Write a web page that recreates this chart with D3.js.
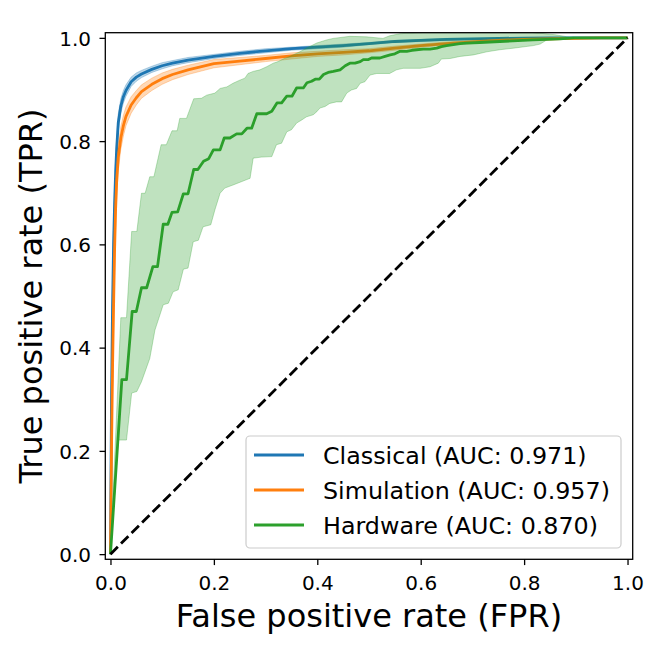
<!DOCTYPE html>
<html><head><meta charset="utf-8">
<script src="https://cdn.jsdelivr.net/npm/d3@7"></script>
<style>body{margin:0;background:#fff} svg{display:block} text{font-family:"DejaVu Sans",sans-serif;fill:#000}</style>
</head><body><svg id="chart" width="664" height="664"></svg>
<script>
// ---- data ----
const fprGrid = [0,0.002,0.004,0.006,0.008,0.010,0.012,0.015,0.02,0.025,0.03,0.04,0.05,0.06,0.08,0.10,0.12,0.15,0.2,0.25,0.3,0.35,0.4,0.45,0.5,0.55,0.6,0.65,0.7,0.75,0.8,0.85,0.9,0.95,1.0];
const classicalTpr = [0,0.30,0.48,0.60,0.68,0.74,0.785,0.835,0.868,0.886,0.898,0.915,0.924,0.930,0.939,0.946,0.951,0.957,0.964,0.970,0.975,0.979,0.982,0.985,0.989,0.993,0.995,0.997,0.998,0.999,0.9995,1.0,1.0,1.0,1.0];
const classicalStd = [0,0.04,0.04,0.035,0.03,0.025,0.02,0.017,0.014,0.012,0.011,0.009,0.008,0.007,0.006,0.006,0.005,0.005,0.004,0.004,0.004,0.003,0.003,0.003,0.002,0.002,0.002,0.002,0.001,0.001,0.001,0,0,0,0];
const simulationTpr = [0,0.20,0.36,0.48,0.59,0.67,0.722,0.768,0.806,0.830,0.848,0.870,0.884,0.896,0.910,0.921,0.929,0.938,0.950,0.955,0.960,0.965,0.969,0.972,0.975,0.980,0.985,0.989,0.992,0.995,0.997,0.998,0.999,1.0,1.0];
const simulationStd = [0,0.05,0.05,0.045,0.04,0.035,0.03,0.026,0.022,0.02,0.018,0.016,0.014,0.013,0.012,0.011,0.010,0.009,0.008,0.007,0.006,0.006,0.005,0.005,0.004,0.004,0.003,0.003,0.003,0.002,0.002,0.002,0.001,0.001,0];
const hardwareMean = [[0,0],[0.022,0.338],[0.031,0.338],[0.042,0.470],[0.050,0.470],[0.060,0.516],[0.070,0.516],[0.082,0.557],[0.091,0.557],[0.102,0.639],[0.111,0.639],[0.119,0.662],[0.130,0.663],[0.141,0.698],[0.150,0.698],[0.161,0.745],[0.169,0.745],[0.180,0.761],[0.190,0.766],[0.199,0.783],[0.212,0.783],[0.220,0.806],[0.231,0.806],[0.244,0.814],[0.254,0.814],[0.264,0.825],[0.273,0.825],[0.283,0.853],[0.302,0.853],[0.312,0.858],[0.322,0.874],[0.331,0.874],[0.341,0.887],[0.351,0.887],[0.360,0.903],[0.373,0.903],[0.380,0.913],[0.389,0.916],[0.396,0.920],[0.404,0.920],[0.412,0.929],[0.421,0.933],[0.431,0.935],[0.444,0.938],[0.454,0.946],[0.463,0.951],[0.473,0.951],[0.483,0.954],[0.489,0.958],[0.499,0.958],[0.505,0.961],[0.521,0.961],[0.531,0.964],[0.541,0.967],[0.550,0.969],[0.560,0.974],[0.573,0.974],[0.583,0.976],[0.592,0.977],[0.605,0.978],[0.618,0.978],[0.631,0.980],[0.640,0.983],[0.650,0.985],[0.663,0.987],[0.676,0.989],[0.689,0.990],[0.714,0.991],[0.753,0.993],[0.817,0.996],[0.869,0.998],[0.895,1.0],[1.0,1.0]];
const hardwareUpper = [[0,0],[0.020,0.458],[0.031,0.458],[0.041,0.625],[0.051,0.625],[0.060,0.699],[0.067,0.699],[0.076,0.731],[0.084,0.731],[0.098,0.793],[0.108,0.793],[0.119,0.820],[0.129,0.820],[0.134,0.844],[0.147,0.844],[0.161,0.882],[0.176,0.883],[0.186,0.889],[0.202,0.893],[0.212,0.902],[0.225,0.905],[0.237,0.912],[0.250,0.918],[0.260,0.922],[0.266,0.931],[0.276,0.935],[0.289,0.938],[0.302,0.944],[0.315,0.951],[0.324,0.954],[0.334,0.959],[0.347,0.964],[0.366,0.973],[0.379,0.980],[0.399,0.990],[0.418,0.996],[0.431,0.999],[0.463,1.003],[0.495,1.002],[0.527,0.999],[0.540,1.004],[0.560,1.008],[0.592,1.010],[0.657,1.012],[0.800,1.012],[0.860,1.006],[0.895,1.0],[1.0,1.0]];
const hardwareLower = [[0,0],[0.015,0.221],[0.031,0.221],[0.041,0.312],[0.051,0.315],[0.060,0.334],[0.076,0.379],[0.086,0.434],[0.102,0.483],[0.112,0.486],[0.121,0.508],[0.131,0.512],[0.141,0.552],[0.150,0.554],[0.160,0.605],[0.170,0.608],[0.179,0.634],[0.194,0.638],[0.202,0.667],[0.212,0.699],[0.221,0.709],[0.237,0.715],[0.270,0.728],[0.276,0.767],[0.292,0.769],[0.312,0.770],[0.321,0.793],[0.331,0.796],[0.341,0.818],[0.350,0.822],[0.360,0.835],[0.370,0.841],[0.379,0.847],[0.392,0.851],[0.399,0.857],[0.405,0.864],[0.415,0.867],[0.424,0.873],[0.437,0.876],[0.447,0.876],[0.457,0.893],[0.466,0.899],[0.476,0.902],[0.483,0.912],[0.492,0.915],[0.502,0.928],[0.515,0.931],[0.540,0.931],[0.553,0.938],[0.566,0.941],[0.599,0.941],[0.618,0.944],[0.634,0.951],[0.640,0.959],[0.657,0.960],[0.676,0.964],[0.702,0.967],[0.728,0.973],[0.753,0.977],[0.779,0.980],[0.818,0.985],[0.831,0.988],[0.844,0.996],[0.882,0.998],[0.895,0.999],[1.0,1.0]];
const seriesNames = ["Classical (AUC: 0.971)","Simulation (AUC: 0.957)","Hardware (AUC: 0.870)"];
const seriesColors = ["#1f77b4","#ff7f0e","#2ca02c"];
const tickValues = [0,0.2,0.4,0.6,0.8,1.0];
const xLabel = "False positive rate (FPR)";
const yLabel = "True positive rate (TPR)";

// ---- layout ----
const L = 105.3, R = 632.7, T = 32.7, B = 559.3;
const svg = d3.select("#chart");
const x = d3.scaleLinear().domain([-0.01,1.01]).range([L,R]);
const y = d3.scaleLinear().domain([-0.01,1.01]).range([B,T]);

svg.append("defs").append("clipPath").attr("id","clip")
  .append("rect").attr("x",L).attr("y",T).attr("width",R-L).attr("height",B-T);
const plot = svg.append("g").attr("clip-path","url(#clip)");

const lineGrid = d3.line().x((d,i)=>x(fprGrid[i])).y(d=>y(d));
const areaGrid = (tpr,std) => d3.area()
  .x((d,i)=>x(fprGrid[i])).y0((d,i)=>y(tpr[i]-std[i])).y1((d,i)=>y(tpr[i]+std[i]))(tpr);
const linePts = d3.line().x(d=>x(d[0])).y(d=>y(d[1]));

// classical
plot.append("path").attr("d",lineGrid(classicalTpr)).attr("fill","none")
  .attr("stroke",seriesColors[0]).attr("stroke-width",2.8).attr("stroke-linejoin","round");
plot.append("path").attr("d",areaGrid(classicalTpr,classicalStd))
  .attr("fill",seriesColors[0]).attr("fill-opacity",0.3)
  .attr("stroke",seriesColors[0]).attr("stroke-opacity",0.3).attr("stroke-width",1);
// simulation
plot.append("path").attr("d",lineGrid(simulationTpr)).attr("fill","none")
  .attr("stroke",seriesColors[1]).attr("stroke-width",2.8).attr("stroke-linejoin","round");
plot.append("path").attr("d",areaGrid(simulationTpr,simulationStd))
  .attr("fill",seriesColors[1]).attr("fill-opacity",0.3)
  .attr("stroke",seriesColors[1]).attr("stroke-opacity",0.3).attr("stroke-width",1);
// hardware
plot.append("path").attr("d",linePts(hardwareMean)).attr("fill","none")
  .attr("stroke",seriesColors[2]).attr("stroke-width",2.8).attr("stroke-linejoin","round");
plot.append("path").attr("d",linePts(hardwareUpper.concat(hardwareLower.slice().reverse()))+"Z")
  .attr("fill",seriesColors[2]).attr("fill-opacity",0.3)
  .attr("stroke",seriesColors[2]).attr("stroke-opacity",0.3).attr("stroke-width",1);
// diagonal
plot.append("path").attr("d",linePts([[0,0],[1,1]])).attr("fill","none")
  .attr("stroke","#000").attr("stroke-width",2.8).attr("stroke-dasharray","10.4,4.5");

// ---- axes ----
const xAxis = svg.append("g").attr("transform",`translate(0,${B})`)
  .call(d3.axisBottom(x).tickValues(tickValues).tickFormat(d3.format(".1f")).tickSize(5.8));
xAxis.select(".domain").remove();
xAxis.selectAll(".tick line").attr("stroke","#000").attr("stroke-width",1.3);
xAxis.selectAll(".tick text").attr("y",30.7).attr("dy",0).attr("font-size",20)
  .style("font-family","DejaVu Sans");

const yAxis = svg.append("g").attr("transform",`translate(${L},0)`)
  .call(d3.axisLeft(y).tickValues(tickValues).tickFormat(d3.format(".1f")).tickSize(5.8));
yAxis.select(".domain").remove();
yAxis.selectAll(".tick line").attr("stroke","#000").attr("stroke-width",1.3);
yAxis.selectAll(".tick text").attr("x",-14.3).attr("dy","0.36em").attr("font-size",20)
  .style("font-family","DejaVu Sans");

// spines
svg.append("rect").attr("x",L).attr("y",T).attr("width",R-L).attr("height",B-T)
  .attr("fill","none").attr("stroke","#000").attr("stroke-width",1.3);

// axis labels
svg.append("text").attr("x",(L+R)/2).attr("y",627).attr("text-anchor","middle")
  .attr("font-size",32).text(xLabel);
svg.append("text").attr("transform",`translate(42,${(T+B)/2}) rotate(-90)`)
  .attr("text-anchor","middle").attr("font-size",32).text(yLabel);

// ---- legend ----
const lg = svg.append("g");
lg.append("rect").attr("x",246).attr("y",436).attr("width",375).attr("height",112)
  .attr("rx",4).attr("fill","#fff").attr("fill-opacity",0.8)
  .attr("stroke","#cccccc").attr("stroke-width",1.2);
seriesNames.forEach((name,i)=>{
  const cy = 455 + i*35;
  lg.append("line").attr("x1",254).attr("x2",304).attr("y1",cy).attr("y2",cy)
    .attr("stroke",seriesColors[i]).attr("stroke-width",2.8);
  lg.append("text").attr("x",323).attr("y",cy+9).attr("font-size",23.8).text(name);
});
</script>
</body></html>
